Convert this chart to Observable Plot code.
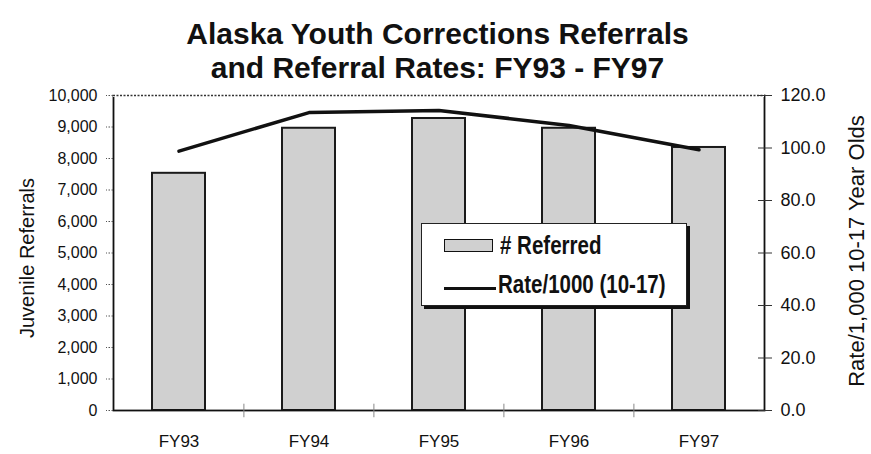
<!DOCTYPE html>
<html>
<head>
<meta charset="utf-8">
<script src="https://cdn.jsdelivr.net/npm/d3@7"></script>
<script src="https://cdn.jsdelivr.net/npm/@observablehq/plot@0.6"></script>
<style>
  html, body { margin: 0; padding: 0; background: #fff; }
  #wrap { position: relative; width: 871px; height: 454px; overflow: hidden; background: #fff; }
  #title { height: 88px; box-sizing: border-box; padding-top: 17px; text-align: center;
    font: bold 30px "Liberation Sans", Arial, sans-serif; line-height: 34px; color: #111; padding-left: 4px; }
  #legend { position: absolute; left: 421px; top: 223px; width: 266px; height: 83px; box-sizing: border-box;
    background: #fff; border: 1px solid #222; box-shadow: 3px 3px 0 #111; }
  .sw { position: absolute; box-sizing: border-box; }
  .lt { position: absolute; font: bold 25px "Liberation Sans", Arial, sans-serif;
    line-height: 25px; color: #111; white-space: nowrap; transform: scaleX(0.82); transform-origin: 0 50%; }
</style>
</head>
<body>
<div id="wrap">
  <div id="title">Alaska Youth Corrections Referrals<br>and Referral Rates: FY93 - FY97</div>
  <div id="chart"></div>
  <div id="legend">
    <div class="sw" style="left:22px;top:15px;width:49px;height:13px;background:#d0d0d0;border:1.5px solid #111;"></div>
    <div class="lt" style="left:78px;top:9px;"># Referred</div>
    <div class="sw" style="left:22px;top:63px;width:52px;height:3px;background:#111;"></div>
    <div class="lt" style="left:76px;top:48px;">Rate/1000 (10-17)</div>
  </div>
</div>
<script>
// ---- data ----
const years = ["FY93", "FY94", "FY95", "FY96", "FY97"];
const referrals = [7530, 8960, 9270, 8960, 8350];
const rates = [98.8, 113.5, 114.3, 108.6, 99.3];
const leftTicks = [0, 1000, 2000, 3000, 4000, 5000, 6000, 7000, 8000, 9000, 10000];
const rightTicks = [0, 20, 40, 60, 80, 100, 120];
const leftLabel = "Juvenile Referrals";
const rightLabel = "Rate/1,000 10-17 Year Olds";

const REF_MAX = 10000, RATE_MAX = 120;
const k = REF_MAX / RATE_MAX;
const data = years.map((year, i) => ({year, referrals: referrals[i], rate: rates[i]}));

const W = 871, H = 366, mL = 113, mR = 107, mT = 7, mB = 44;
const halfStep = (W - mL - mR) / years.length / 2;

const chart = Plot.plot({
  width: W, height: H,
  marginLeft: mL, marginRight: mR, marginTop: mT, marginBottom: mB,
  style: {background: "white", fontFamily: '"Liberation Sans", Arial, sans-serif', color: "#111", overflow: "visible"},
  x: {domain: years, paddingInner: 0.59, paddingOuter: 0.295},
  y: {domain: [0, REF_MAX]},
  marks: [
    Plot.barY(data, {x: "year", y: "referrals", fill: "#d0d0d0", stroke: "#1a1a1a", strokeWidth: 2}),
    Plot.lineY(data, {x: "year", y: d => d.rate * k, stroke: "#111", strokeWidth: 3.5,
      strokeLinejoin: "round", strokeLinecap: "round"}),
    Plot.frame({stroke: "#111", strokeWidth: 1.8}),
    Plot.ruleY([REF_MAX], {stroke: "white", strokeWidth: 3}),
    Plot.ruleY([REF_MAX], {stroke: "#333", strokeWidth: 1.3, strokeDasharray: "2,1.5"}),
    Plot.ruleX(years.slice(1), {x: d => d, dx: -halfStep, y1: -230, y2: 200, stroke: "#888", strokeWidth: 1}),
    Plot.axisX({tickSize: 0, tickPadding: 24, fontSize: 17, label: null}),
    Plot.axisY(leftTicks, {anchor: "left", tickSize: 7, tickPadding: 9, fontSize: 16,
      tickFormat: d3.format(","), stroke: "#555", strokeDasharray: "1.5,1.5", label: null}),
    Plot.axisY(rightTicks.map(r => r * k), {anchor: "right", tickSize: 7, tickPadding: 9, fontSize: 18,
      tickFormat: d => (d / k).toFixed(1), stroke: "#333", label: null}),
    Plot.axisY(rightTicks.map(r => r * k), {anchor: "right", tickSize: 7, dx: -7, tickFormat: () => "",
      stroke: "#333", label: null}),
    Plot.text([leftLabel], {frameAnchor: "left", textAnchor: "middle", dx: -86, dy: 5, rotate: -90,
      fontSize: 20, fill: "#111"}),
    Plot.text([rightLabel], {frameAnchor: "right", textAnchor: "middle", dx: 92, dy: -2, rotate: -90,
      fontSize: 22, fill: "#111"})
  ]
});
document.getElementById("chart").appendChild(chart);
</script>
</body>
</html>
